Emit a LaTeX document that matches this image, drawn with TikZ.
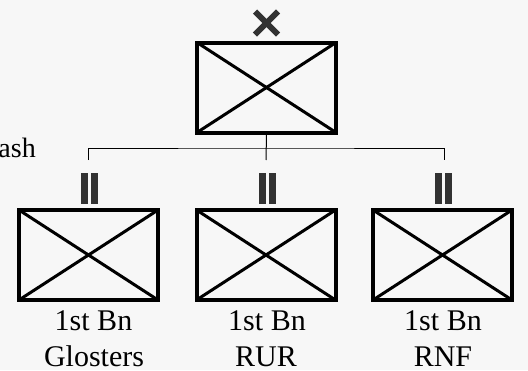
\documentclass[tikz,border=0pt]{standalone}
\usepackage{fontspec}
\setmainfont{Liberation Serif}
\usetikzlibrary{calc}
\definecolor{bg}{RGB}{247,247,247}
\definecolor{mark}{RGB}{50,50,50}
\tikzset{
  unitbox/.style={draw=black, line width=4pt, minimum width=139pt, minimum height=90pt, outer sep=0pt, inner sep=0pt},
  diag/.style={line width=3pt},
  lbl/.style={font=\fontsize{30}{36}\selectfont, inner sep=0pt, anchor=base},
  conn/.style={line width=1pt},
  bar/.style={fill=mark},
}
\newcommand{\unitx}[1]{\draw[diag] (#1.north west) -- (#1.south east); \draw[diag] (#1.south west) -- (#1.north east);}
\newcommand{\echelonII}[1]{%
  \fill[bar] ($(#1)+(-8.5,0)$) rectangle ($(#1)+(-1.5,31)$);
  \fill[bar] ($(#1)+(1.5,0)$) rectangle ($(#1)+(8.5,31)$);}
\begin{document}
\begin{tikzpicture}[x=1pt,y=-1pt]
\useasboundingbox[fill=bg] (0,0) rectangle (528,370);
% HQ box
\node[unitbox] (hq) at (266.5,87.5) {};
\unitx{hq}
% X mark above HQ
\node[minimum size=23pt, inner sep=0pt, outer sep=0pt] (hqmark) at (266.5,23) {};
\draw[line width=6pt, color=mark] (hqmark.north west) -- (hqmark.south east);
\draw[line width=6pt, color=mark] (hqmark.south west) -- (hqmark.north east);
% battalion boxes
\node[unitbox] (b1) at (88.5,255) {};
\node[unitbox] (b2) at (266,255) {};
\node[unitbox] (b3) at (442.5,255) {};
\unitx{b1}\unitx{b2}\unitx{b3}
% echelon marks
\coordinate (e1) at (89,172.5);
\coordinate (e2) at (267,172.5);
\coordinate (e3) at (443,172.5);
\echelonII{e1}\echelonII{e2}\echelonII{e3}
% connector bracket
\coordinate (s1) at (88.7,160);
\coordinate (s2) at (266,160);
\coordinate (s3) at (444.7,160);
\draw[conn] ($(hq.south)+(0,2)$) -- (s2);
\draw[conn] (s1) |- (266,148) -| (s3);
% labels
\node[lbl] (l1a) at (93.5,330) {1st Bn};
\node[lbl] (l1b) at (94,366) {Glosters};
\node[lbl] (l2a) at (267,330) {1st Bn};
\node[lbl] (l2b) at (266,366) {RUR};
\node[lbl] (l3a) at (443,330) {1st Bn};
\node[lbl] (l3b) at (443,366) {RNF};
% cropped text at left edge
\node[font=\fontsize{28}{34}\selectfont, inner sep=0pt, anchor=base east] (ash) at (36,157) {ash};
\end{tikzpicture}
\end{document}
